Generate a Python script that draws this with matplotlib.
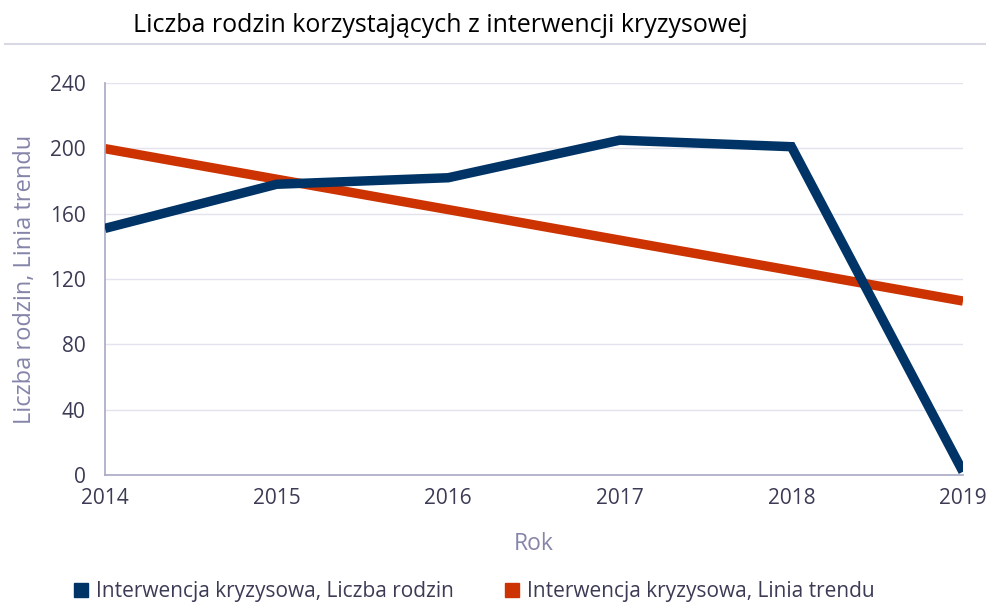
import matplotlib
matplotlib.use("Agg")
import matplotlib.pyplot as plt
from matplotlib.lines import Line2D

years = [2014, 2015, 2016, 2017, 2018, 2019]
rodziny = [151, 178, 182, 205, 201, 2]
trend = [199.8, 181.1, 162.5, 143.8, 125.2, 106.5]
y_ticks = [0, 40, 80, 120, 160, 200, 240]

title = "Liczba rodzin korzystających z interwencji kryzysowej"
label_rodziny = "Interwencja kryzysowa, Liczba rodzin"
label_trend = "Interwencja kryzysowa, Linia trendu"

BLUE = "#003366"
ORANGE = "#cc3300"
TEXT = "#3b3b55"
AXIS_LABEL = "#8585aa"
GRID = "#e3e3ee"
SPINE = "#a8a8c4"

plt.rcParams["font.family"] = ["Open Sans", "DejaVu Sans"]

fig = plt.figure(figsize=(9.86, 6.05), dpi=100)
ax = fig.add_axes([105 / 986, 1 - 475 / 605, (963 - 105) / 986, (475 - 83) / 605])

ax.plot(years, rodziny, color=BLUE, linewidth=6.8, solid_capstyle="butt",
        solid_joinstyle="miter", zorder=3)
ax.plot(years, trend, color=ORANGE, linewidth=6.8, solid_capstyle="butt", zorder=2)

ax.set_xlim(2014, 2019)
ax.set_ylim(0, 240)
ax.set_xticks(years)
ax.set_yticks(y_ticks)
ax.tick_params(axis="both", length=0, labelsize=15, colors=TEXT)
ax.tick_params(axis="x", pad=9)
ax.tick_params(axis="y", pad=14)
ax.grid(axis="y", color=GRID, linewidth=1)
ax.set_axisbelow(True)
for side in ["top", "right"]:
    ax.spines[side].set_visible(False)
for side in ["left", "bottom"]:
    ax.spines[side].set_color(SPINE)
    ax.spines[side].set_linewidth(1.2)

ax.set_xlabel("Rok", fontsize=16.5, color=AXIS_LABEL, labelpad=17)
ax.set_ylabel("Liczba rodzin, Linia trendu", fontsize=17, color=AXIS_LABEL, labelpad=9)

fig.text(133 / 986, 1 - 26 / 605, title, fontsize=18, color="black", va="center")
fig.add_artist(Line2D([5 / 986, 1], [1 - 44 / 605] * 2, color="#d9d9e6", linewidth=1.5))

handles = [
    Line2D([], [], marker="s", linestyle="none", color=BLUE, markersize=10),
    Line2D([], [], marker="s", linestyle="none", color=ORANGE, markersize=10),
]
fig.legend(handles, [label_rodziny, label_trend], loc="center left",
           bbox_to_anchor=(50 / 986, 1 - 592 / 605), ncol=2, frameon=False,
           fontsize=15, labelcolor=TEXT, handletextpad=0.1, columnspacing=2.2,
           handlelength=1.2)

fig.savefig("out.png", dpi=100)
